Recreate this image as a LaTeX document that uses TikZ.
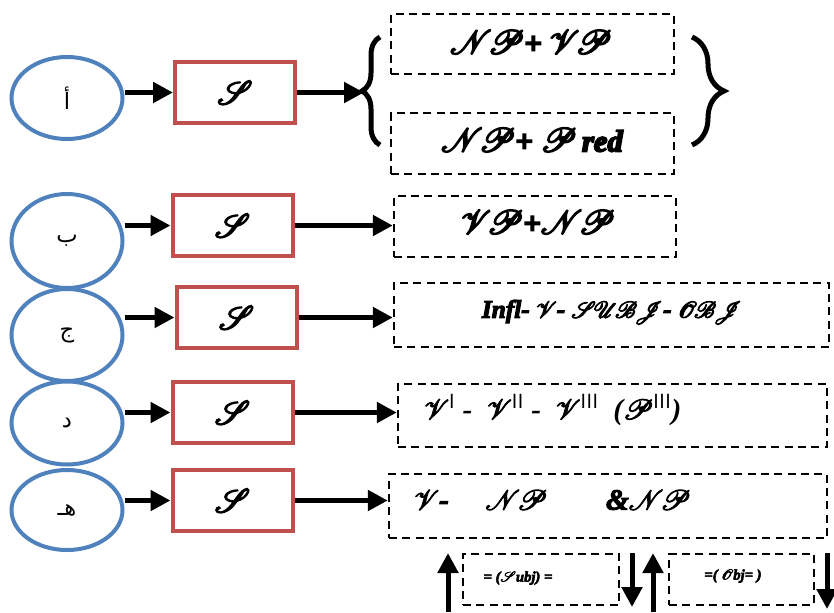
\documentclass[tikz,border=0pt]{standalone}
\usepackage{fontspec}
\setmainfont{Liberation Serif}
\usepackage{mathrsfs}
\newfontfamily\arabicfont[Script=Arabic]{DejaVu Sans}
\TeXXeTstate=1
\usetikzlibrary{arrows.meta,decorations.pathreplacing,shapes.geometric}
\definecolor{ovalblue}{HTML}{4F81BD}
\definecolor{boxred}{HTML}{C0504D}
% script capital
\newcommand\scl[1]{\ensuremath{\mathscr{#1}}}
% text drawn with an outline stroke as well as a fill, for a heavier face
\newcommand\heavy[2][0.8]{\special{pdf:literal direct 2 Tr #1 w}#2\special{pdf:literal direct 0 Tr}}
\newcommand\tk{\ensuremath{\mkern-2mu}}
\begin{document}
\begin{tikzpicture}[x=0.75pt,y=-0.75pt,
  oval/.style={draw=ovalblue,line width=3pt,ellipse,minimum width=83.25pt,inner sep=0pt,
    font=\arabicfont\fontsize{17}{20}\selectfont},
  sbox/.style={draw=boxred,line width=3pt,minimum width=90pt,minimum height=45.75pt,inner sep=0pt,
    font=\fontsize{28}{30}\selectfont},
  dbox/.style={draw,line width=1.8pt,dash pattern=on 6pt off 4pt,inner sep=0pt},
  big/.style={font=\bfseries\itshape\fontsize{23}{26}\selectfont,inner sep=0pt},
  mid/.style={font=\bfseries\itshape\fontsize{19}{22}\selectfont,inner sep=0pt},
  midl/.style={font=\bfseries\itshape\fontsize{22}{24}\selectfont,inner sep=0pt},
  small/.style={font=\bfseries\itshape\fontsize{11}{13}\selectfont,inner sep=0pt},
  arr/.style={line width=3.75pt,-{Triangle[length=15pt,width=15pt]}},
  vbrace/.style={line width=3.75pt,decorate}]
\useasboundingbox (0,0) rectangle (834,612);

% letter ovals
\node[oval,minimum height=61.5pt] (e1) at (67,98)  {\beginR أ\endR};
\node[oval,minimum height=70.5pt] (e2) at (67,241) {\beginR ب\endR};
\node[oval,minimum height=69pt]   (e3) at (67,335) {\beginR ج\endR};
\node[oval,minimum height=62.25pt](e4) at (67,423) {\beginR د\endR};
\node[oval,minimum height=60pt]   (e5) at (67,510) {\beginR هـ\endR};

% sentence boxes
\node[sbox] (b1) at (235,92.5)    {\heavy[1.2]{\scl{S}}};
\node[sbox] (b2) at (232.5,225.5) {\heavy[1.2]{\scl{S}}};
\node[sbox] (b3) at (236.5,317.5) {\heavy[1.2]{\scl{S}}};
\node[sbox] (b4) at (232.5,412.5) {\heavy[1.2]{\scl{S}}};
\node[sbox] (b5) at (232.5,500.5) {\heavy[1.2]{\scl{S}}};

% dashed result boxes
\node[dbox,minimum width=212.25pt,minimum height=45pt]    (d1a) at (532.5,44) {};
\node[dbox,minimum width=212.25pt,minimum height=45.75pt] (d1b) at (532.5,143.5) {};
\node[dbox,minimum width=211.5pt,minimum height=45.75pt]  (d2) at (535,226.5) {};
\node[dbox,minimum width=326.25pt,minimum height=48pt]    (d3) at (611.5,315) {};
\node[dbox,minimum width=321.75pt,minimum height=47.25pt] (d4) at (612.5,415.5) {};
\node[dbox,minimum width=328.5pt,minimum height=48pt]     (d5) at (608,506) {};
\node[dbox,minimum width=117pt,minimum height=38.25pt]    (ds) at (541,579.5) {};
\node[dbox,minimum width=108.75pt,minimum height=38.25pt] (do) at (741.5,579.5) {};

% texts
\node[big] (t1a) at (531,42)
  {\heavy[1.3]{\scl{N}\tk\scl{P}+ \scl{V}\tk\scl{P}}};
\node[big] (t1b) at (532,140)
  {\heavy[1.3]{\scl{N}\tk\scl{P}+ \scl{P}\,red}};
\node[big] (t2)  at (538,222)
  {\heavy[1.3]{\scl{V}\tk\scl{P}+\scl{N}\tk\scl{P}}};
\node[mid] (t3)  at (612,312)
  {\heavy{Infl- \scl{V}- \scl{S}\tk\scl{U}\tk\scl{B}\tk\scl{J}- \scl{O}\tk\scl{B}\tk\scl{J}}};
\node[midl,anchor=west] (t4) at (424,410)
  {\heavy{\scl{V}}\textsuperscript{\normalfont\sffamily I} -\enspace
   \heavy{\scl{V}}\textsuperscript{\normalfont\sffamily II} -\enspace
   \heavy{\scl{V}}\textsuperscript{\normalfont\sffamily III}\enspace
   (\heavy{\scl{P}}\textsuperscript{\normalfont\sffamily III})};
\node[midl,anchor=west] (t5) at (414,500)
  {\heavy{\scl{V}-\quad\ \scl{N}\tk\scl{P}\qquad \&\scl{N}\tk\scl{P}}};
\node[small] (ts) at (518,578) {\heavy[0.4]{= (\scl{S}ubj) =}};
\node[small] (to) at (733,576) {\heavy[0.4]{=(\ \scl{O}bj= )}};

% braces round the first pair of results
\draw[vbrace,decoration={brace,amplitude=13.5pt}] (380,145) -- (380,37);
\draw[vbrace,decoration={brace,amplitude=24pt}] (692,37) -- (692,145);
\coordinate (lb) at (364,92);

% connectors
\draw[arr] (e1.east |- b1.west) -- (b1.west);
\draw[arr] (e2.east |- b2.west) -- (b2.west);
\draw[arr] (e3.east |- b3.west) -- (b3.west);
\draw[arr] (e4.east |- b4.west) -- (b4.west);
\draw[arr] (e5.east |- b5.west) -- (b5.west);

\draw[arr] (b1.east) -- (b1.east -| lb);
\draw[arr] (b2.east) -- (b2.east -| d2.west);
\draw[arr] (b3.east) -- (b3.east -| d3.west);
\draw[arr] (b4.east) -- (b4.east -| d4.west);
\draw[arr] (b5.east) -- (b5.east -| d5.west);

% vertical arrows beside the subject and object boxes
\coordinate (u1a) at (448,612); \coordinate (u1b) at (448,553);
\coordinate (d1s) at (632,553); \coordinate (d1e) at (632,607);
\coordinate (u2a) at (653,612); \coordinate (u2b) at (653,553);
\coordinate (d2s) at (827,553); \coordinate (d2e) at (827,609);
\draw[arr] (u1a) -- (u1b);
\draw[arr] (d1s) -- (d1e);
\draw[arr] (u2a) -- (u2b);
\draw[arr] (d2s) -- (d2e);
\end{tikzpicture}
\end{document}
